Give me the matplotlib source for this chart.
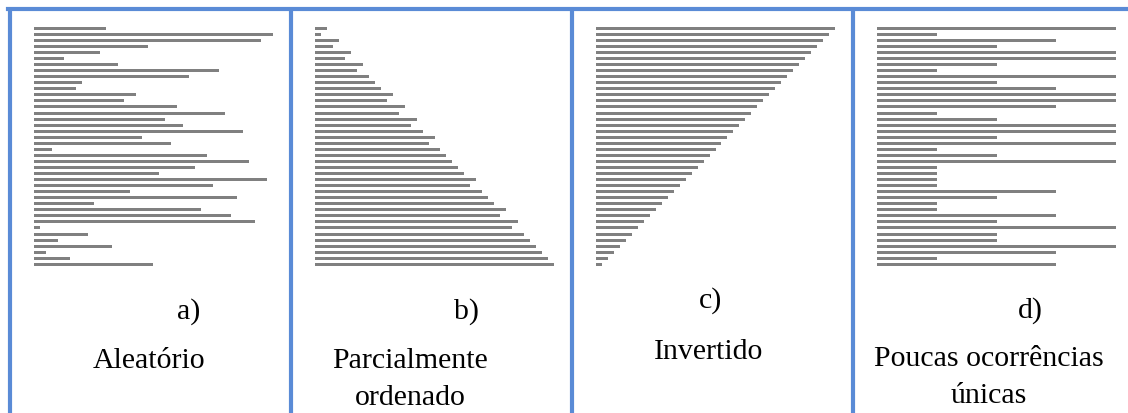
import numpy as np
from matplotlib import pyplot as plt
from matplotlib.lines import Line2D

# bar lengths, top to bottom
aleatorio = [12, 40, 38, 19, 11, 5, 14, 31, 26, 8, 7, 17, 15, 24, 32, 22, 25, 35, 18, 23,
             3, 29, 36, 27, 21, 39, 30, 16, 34, 10, 28, 33, 37, 1, 9, 4, 13, 2, 6, 20]
parcial = [2, 1, 4, 3, 6, 5, 8, 7, 9, 10, 11, 13, 12, 15, 14, 17, 16, 18, 20, 19,
           21, 22, 23, 24, 25, 27, 26, 28, 29, 30, 32, 31, 34, 33, 35, 36, 37, 38, 39, 40]
invertido = list(range(40, 0, -1))
poucas = [40, 10, 30, 20, 40, 40, 20, 10, 40, 20, 30, 40, 40, 30, 10, 20, 40, 40, 20, 40,
          10, 20, 40, 10, 10, 10, 10, 30, 20, 10, 10, 30, 20, 40, 20, 20, 40, 30, 10, 30]

letters = ['a)', 'b)', 'c)', 'd)']
names = ['Aleatório', 'Parcialmente\nordenado', 'Invertido', 'Poucas ocorrências\núnicas']

W, H = 1128, 414
fig = plt.figure(figsize=(W / 100, H / 100), dpi=100)

grey = '#808080'
blue = '#5a8bd6'
font = dict(family='Liberation Serif', fontsize=21.5)

# pixel layout
x_starts = [34, 315, 596, 877]
bar_w = 239
y_top, y_bot = 26.3, 268.3
letter_pos = [(189, 312), (467, 312), (711, 301), (1030, 311)]
name_x = [149, 410, 709, 989]
name_y = [361, 361, 352, 359]
line_gap = 37

series = [aleatorio, parcial, invertido, poucas]
for i, vals in enumerate(series):
    ax = fig.add_axes([x_starts[i] / W, (H - y_bot) / H, bar_w / W, (y_bot - y_top) / H])
    ypos = np.arange(len(vals))
    ax.barh(ypos, vals, height=0.5, color=grey)
    ax.set_xlim(0, 40)
    ax.set_ylim(len(vals) - 0.5, -0.5)
    ax.axis('off')

    lx, ly = letter_pos[i]
    fig.text(lx / W, 1 - ly / H, letters[i], ha='center', va='center', **font)
    for k, part in enumerate(names[i].split('\n')):
        ny = name_y[i] + k * line_gap
        fig.text(name_x[i] / W, 1 - ny / H, part, ha='center', va='center', **font)

# blue frame lines
lw = 3.0
fig.add_artist(Line2D([8 / W, 1], [1 - 10 / H, 1 - 10 / H], color=blue, lw=lw,
                      transform=fig.transFigure))
for xl in [10, 290.5, 572, 853]:
    fig.add_artist(Line2D([xl / W, xl / W], [0, 1 - 8 / H], color=blue, lw=lw,
                          transform=fig.transFigure, solid_capstyle='butt'))

fig.savefig('out.png', dpi=100)
